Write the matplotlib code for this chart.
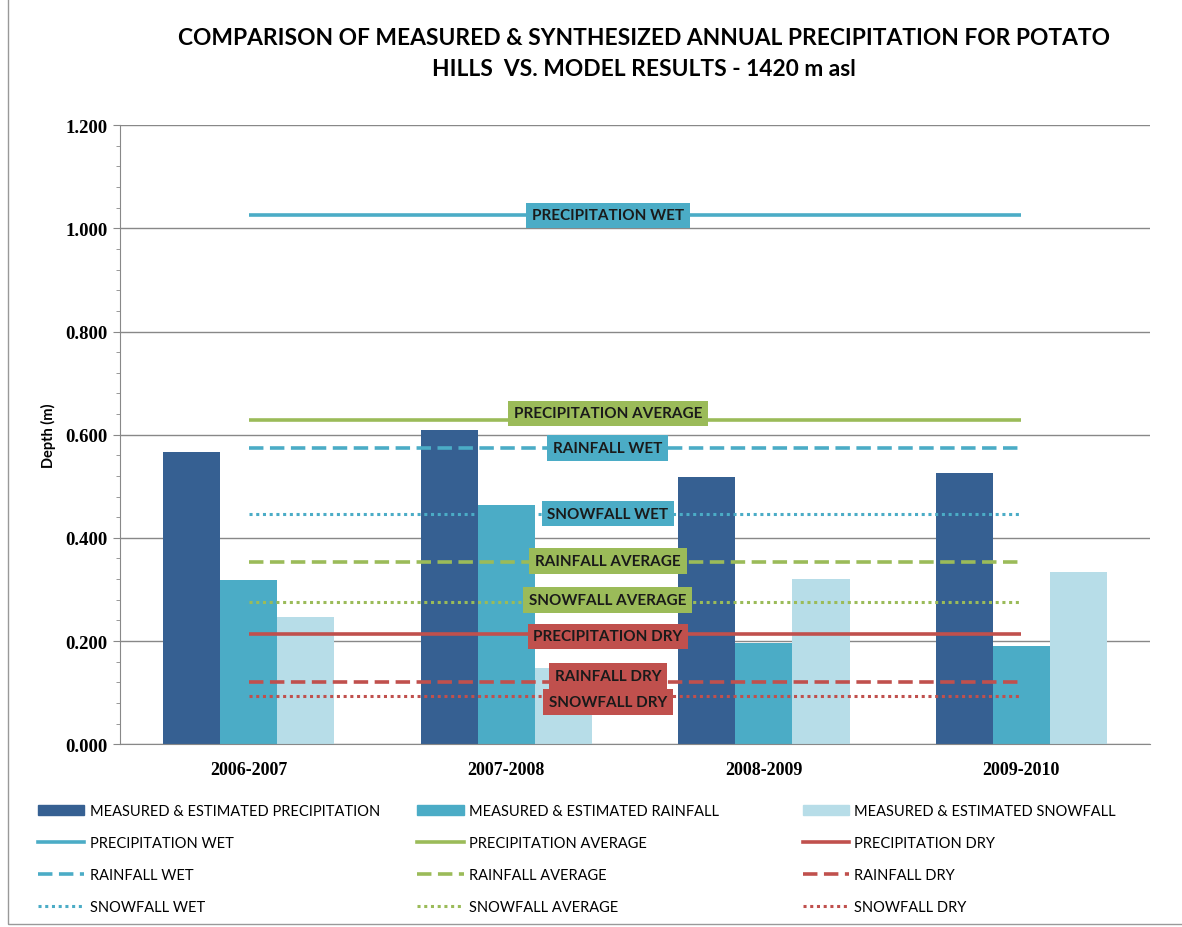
import matplotlib.pyplot as plt
from matplotlib.lines import Line2D
from matplotlib.patches import Patch, Rectangle
import numpy as np

# data
years = ['2006-2007', '2007-2008', '2008-2009', '2009-2010']
precip = [0.566, 0.609, 0.518, 0.525]
rain = [0.318, 0.463, 0.197, 0.191]
snow = [0.246, 0.147, 0.320, 0.334]

bar_names = ['MEASURED & ESTIMATED PRECIPITATION', 'MEASURED & ESTIMATED RAINFALL',
             'MEASURED & ESTIMATED SNOWFALL']
bar_colors = ['#366092', '#4BACC6', '#B7DDE8']

# model results (horizontal reference lines)
ref_names = ['PRECIPITATION WET', 'PRECIPITATION AVERAGE', 'PRECIPITATION DRY',
             'RAINFALL WET', 'RAINFALL AVERAGE', 'RAINFALL DRY',
             'SNOWFALL WET', 'SNOWFALL AVERAGE', 'SNOWFALL DRY']
ref_values = [1.025, 0.628, 0.213,
              0.574, 0.353, 0.120,
              0.447, 0.275, 0.093]

line_colors = {'WET': '#4BACC6', 'AVERAGE': '#9BBB59', 'DRY': '#C0504D'}
line_styles = {'PRECIPITATION': '-', 'RAINFALL': (0, (4, 1.8)), 'SNOWFALL': (0, (1, 1.2))}
# label nudges in points (up is positive)
label_nudge = {'PRECIPITATION AVERAGE': 5, 'RAINFALL DRY': 4.5, 'SNOWFALL DRY': -4,
               'RAINFALL AVERAGE': 1, 'SNOWFALL AVERAGE': 1.5, 'PRECIPITATION DRY': -1.5}

sans = ['Lato', 'DejaVu Sans']
serif = ['Liberation Serif', 'DejaVu Serif']

fig = plt.figure(figsize=(11.82, 9.28), dpi=100)
ax = fig.add_axes([0.1015, 0.197, 0.8715, 0.667])

x = np.arange(len(years))
w = 0.222
for i, (vals, c) in enumerate(zip([precip, rain, snow], bar_colors)):
    ax.bar(x + (i - 1) * w, vals, w, color=c, zorder=2)

for name, v in zip(ref_names, ref_values):
    kind, level = name.split(' ')
    col = line_colors[level]
    lw = 2.6 if kind != 'SNOWFALL' else 2.2
    ax.hlines(v, 0, 3, color=col, linestyle=line_styles[kind], lw=lw, zorder=3)
    ax.annotate(name, (1.395, v), xytext=(0, label_nudge.get(name, 0)),
                textcoords='offset points', ha='center', va='center',
                fontsize=11, fontweight='bold', family=sans, color='#1a1a1a', zorder=5,
                bbox=dict(boxstyle='square,pad=0.38', fc=col, ec='none'))

ax.set_xlim(-0.5, 3.5)
ax.set_ylim(0, 1.2)
ax.set_xticks(x)
ax.set_xticklabels(years, family=serif, fontweight='bold', fontsize=13)
yt = np.arange(0, 1.21, 0.2)
ax.set_yticks(yt)
ax.set_yticklabels(['%.3f' % t for t in yt], family=serif, fontweight='bold', fontsize=13.5)
ax.set_yticks(np.arange(0, 1.2001, 0.04), minor=True)
ax.tick_params(axis='x', length=0, pad=12)
ax.tick_params(axis='y', which='major', length=5, color='#888888', pad=4)
ax.tick_params(axis='y', which='minor', length=3, color='#888888')
ax.yaxis.grid(True, color='#888888', lw=1)
ax.set_axisbelow(True)
for s in ['top', 'right']:
    ax.spines[s].set_visible(False)
ax.spines['left'].set_color('#888888')
ax.spines['bottom'].set_color('#888888')
ax.set_ylabel('Depth (m)', fontsize=10.5, fontweight='bold', family=sans, labelpad=7)

fig.text(0.545, 0.97, 'COMPARISON OF MEASURED & SYNTHESIZED ANNUAL PRECIPITATION FOR POTATO\n'
         'HILLS  VS. MODEL RESULTS - 1420 m asl', ha='center', va='top',
         fontsize=16.4, fontweight='bold', family=sans, linespacing=1.62)

# legend: three columns placed separately
col_x = [0.032, 0.353, 0.679]
levels = ['WET', 'AVERAGE', 'DRY']
for j, level in enumerate(levels):
    handles = [Patch(color=bar_colors[j])]
    labels = [bar_names[j]]
    for kind in ['PRECIPITATION', 'RAINFALL', 'SNOWFALL']:
        lw = 2.6 if kind != 'SNOWFALL' else 2.2
        handles.append(Line2D([], [], color=line_colors[level], ls=line_styles[kind], lw=lw))
        labels.append(kind + ' ' + level)
    fig.legend(handles, labels, loc='upper left', bbox_to_anchor=(col_x[j], 0.1325),
               frameon=False, handlelength=3.2, handletextpad=0.35, borderpad=0,
               borderaxespad=0, labelspacing=1.24, prop={'family': sans, 'size': 10.5})

fig.add_artist(Rectangle((0.007, 0.003), 1.2, 1.2, transform=fig.transFigure,
                         fill=False, ec='#999999', lw=1))

fig.savefig('out.png', dpi=100)
